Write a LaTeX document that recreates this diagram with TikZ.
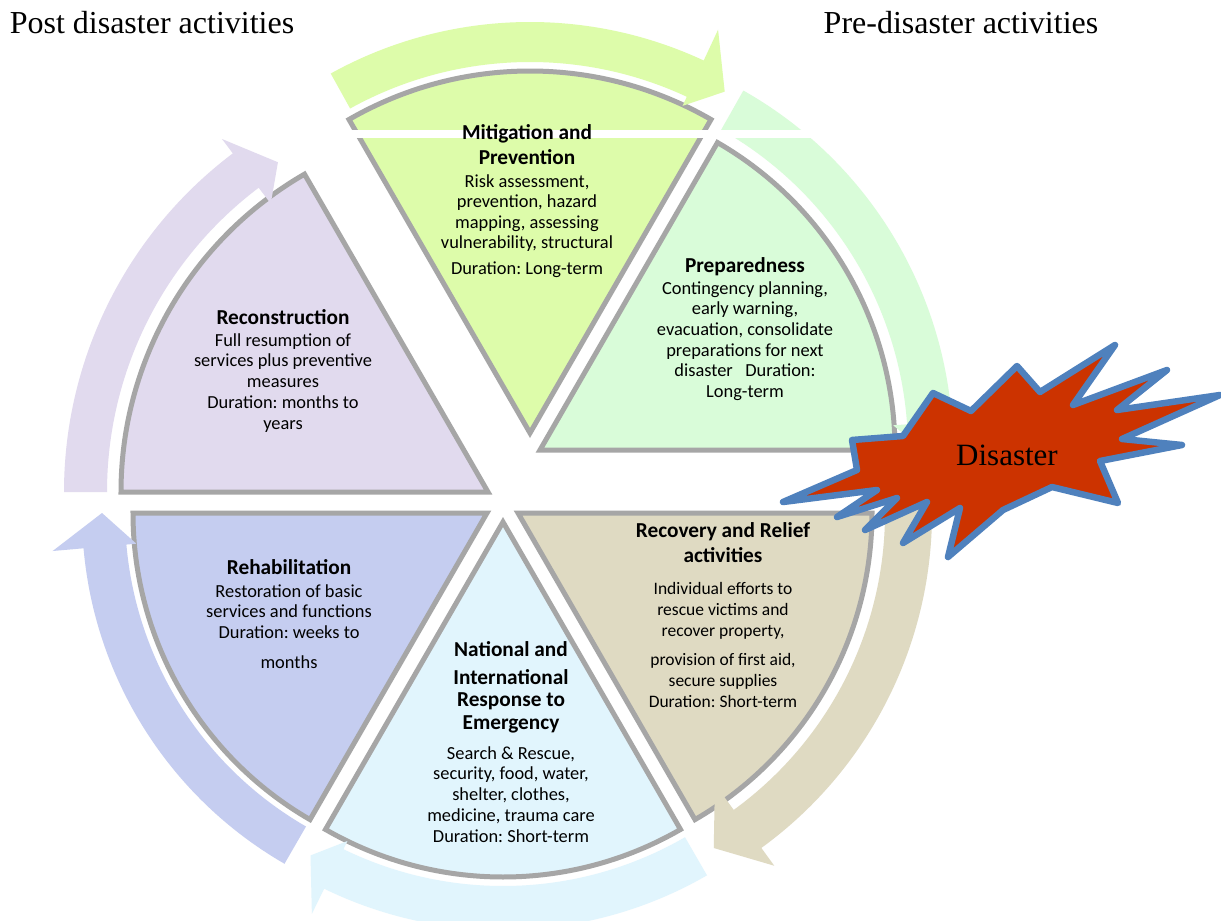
\documentclass[tikz,border=0pt]{standalone}
\usepackage{fontspec}
\setmainfont{Carlito}
\newfontfamily\timesf{Liberation Serif}
\definecolor{cMit}{RGB}{221,252,170}
\definecolor{cPrep}{RGB}{217,252,217}
\definecolor{cRec}{RGB}{223,218,194}
\definecolor{cNat}{RGB}{225,245,253}
\definecolor{cReh}{RGB}{197,205,240}
\definecolor{cRcn}{RGB}{225,218,238}
\definecolor{cGray}{RGB}{166,166,166}
\definecolor{cStarFill}{RGB}{204,51,0}
\definecolor{cStarLine}{RGB}{79,129,189}
\tikzset{
  slice/.style={draw=cGray, line width=5pt, line join=miter},
  burst/.style={fill=cStarFill, draw=cStarLine, line width=6.5pt, line join=round},
  ttl/.style={font=\bfseries\fontsize{21.3}{25}\selectfont, align=center, inner sep=0pt, anchor=north},
  body/.style={font=\fontsize{18.4}{20.5}\selectfont, align=center, inner sep=0pt, anchor=north},
  toplabel/.style={font=\timesf\fontsize{32}{32}\selectfont, inner sep=0pt, anchor=base}
}
% center, start angle, end angle, radius, colour
\newcommand{\pieslice}[5]{%
  \begin{scope}[shift={#1}]
    \draw[slice, fill=#5] (0,0) -- (#2:#4) arc[start angle=#2, end angle=#3, radius=#4] -- cycle;
  \end{scope}}
% center, inner r, outer r, start angle, head angle, head inner r, head outer r, tip (a:r), colour
\newcommand{\bandarrow}[9]{%
  \begin{scope}[shift={#1}]
    \fill[#9] (#4:#3) arc[start angle=#4, end angle=#5, radius=#3] -- (#5:#7) -- (#8) -- (#5:#6)
      -- (#5:#2) arc[start angle=#5, end angle=#4, radius=#2] -- cycle;
  \end{scope}}
\begin{document}
\frenchspacing
\begin{tikzpicture}[x=1pt,y=1pt]
\useasboundingbox (0,0) rectangle (1221,-921);
\fill[white] (0,0) rectangle (1221,-921);

% sector centres
\coordinate (cM) at (530,-433);
\coordinate (cP) at (540,-450);
\coordinate (cR) at (518,-513);
\coordinate (cN) at (503,-522);
\coordinate (cH) at (487,-513);
\coordinate (cC) at (488,-492);

% sectors
\pieslice{(cM)}{60}{120}{362}{cMit}
\pieslice{(cP)}{0}{60}{355}{cPrep}
\pieslice{(cR)}{-60}{0}{354}{cRec}
\pieslice{(cN)}{-120}{-60}{355}{cNat}
\pieslice{(cH)}{180}{240}{354}{cReh}
\pieslice{(cC)}{120}{180}{367}{cRcn}

% circular arrows
\bandarrow{(cM)}{371}{411}{119}{65}{361}{445}{60.3:393}{cMit}
\bandarrow{(cP)}{368}{413}{60.5}{4}{354}{440}{-1:392}{cPrep}
\bandarrow{(cR)}{367}{414}{1}{-54}{335}{436}{-59.7:388}{cRec}
\bandarrow{(cN)}{364}{408}{-60}{-116}{355}{436}{-120:385}{cNat}
\bandarrow{(cH)}{362}{405}{240}{185}{352}{436}{180:385}{cReh}
\bandarrow{(cC)}{381}{424}{180}{127}{361}{442}{122.5:391}{cRcn}

% white cut across the top
\fill[white] (150,-129.5) rectangle (850,-137.5);

% disaster burst
\draw[burst] (783,-502) -- (857,-470) -- (852,-440) -- (903,-436) -- (933,-393) -- (971,-411)
  -- (1017,-366) -- (1040,-392) -- (1115,-345) -- (1073,-405) -- (1167,-370) -- (1117,-410)
  -- (1220,-395) -- (1122,-439) -- (1182,-445) -- (1100,-461) -- (1118,-503) -- (1052,-487)
  -- (1003,-510) -- (948,-557) -- (960,-508) -- (903,-543) -- (927,-502) -- (865,-530)
  -- (897,-498) -- (837,-517) -- (877,-490) -- cycle;
\node[font=\timesf\fontsize{31}{31}\selectfont, inner sep=0pt, anchor=base] (dis) at (1007,-465) {Disaster};

% top labels
\node[toplabel] (post) at (152,-33) {Post disaster activities};
\node[toplabel] (pre) at (961,-33) {Pre-disaster activities};

% Mitigation
\node[ttl] (mitT) at (527,-124) {\rule{0pt}{15pt}Mitigation and\\Prevention};
\node[body] (mitB) at (527,-173) {\rule{0pt}{14pt}Risk assessment,\\prevention, hazard\\mapping, assessing\\vulnerability, structural\\[5pt]Duration: Long-term};

% Preparedness
\node[ttl] (preT) at (745,-257) {\rule{0pt}{15pt}Preparedness};
\node[body, font=\fontsize{18.4}{20.6}\selectfont] (preB) at (745,-280) {\rule{0pt}{14pt}Contingency planning,\\early warning,\\evacuation, consolidate\\preparations for next\\disaster\ \ \ Duration:\\Long-term};

% Reconstruction
\node[ttl] (rcnT) at (283,-309) {\rule{0pt}{15pt}Reconstruction};
\node[body, font=\fontsize{18.4}{20.75}\selectfont] (rcnB) at (283,-332) {\rule{0pt}{14pt}Full resumption of\\services plus preventive\\measures\\Duration: months to\\years};

% Rehabilitation
\node[ttl] (rehT) at (289,-559) {\rule{0pt}{15pt}Rehabilitation};
\node[body] (rehB) at (289,-583) {\rule{0pt}{14pt}Restoration of basic\\services and functions\\Duration: weeks to\\[9.5pt]months};

% National
\node[ttl, font=\bfseries\fontsize{21.3}{22.5}\selectfont] (natT) at (511,-641) {\rule{0pt}{15pt}National and\\[5.5pt]International\\Response to\\Emergency};
\node[body, font=\fontsize{18.4}{20.75}\selectfont] (natB) at (511,-745) {\rule{0pt}{14pt}Search \& Rescue,\\security, food, water,\\shelter, clothes,\\medicine, trauma care\\Duration: Short-term};

% Recovery
\node[ttl] (recT) at (723,-522) {\rule{0pt}{15pt}Recovery and Relief\\activities};
\node[body, font=\fontsize{17.5}{21}\selectfont] (recB) at (723,-580) {\rule{0pt}{14pt}Individual efforts to\\rescue victims and\\recover property,\\[8pt]provision of first aid,\\secure supplies\\Duration: Short-term};
\end{tikzpicture}
\end{document}
